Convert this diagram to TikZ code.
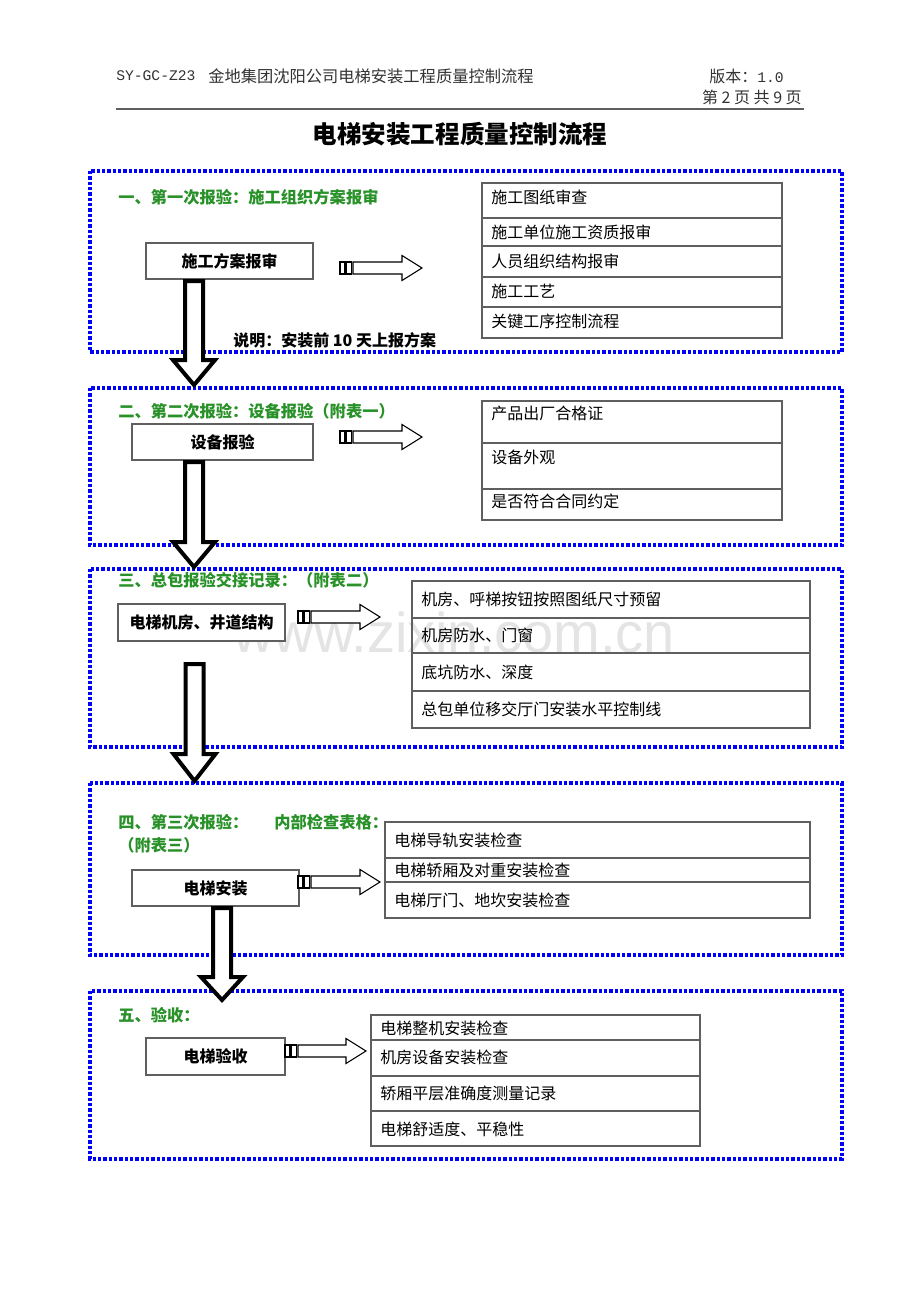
\documentclass[tikz,border=0pt]{standalone}
\usepackage{fontspec}
\setmainfont{Noto Sans CJK SC}
\newfontfamily\monof{Liberation Mono}
\newfontfamily\wmf{Liberation Sans}
\definecolor{hgreen}{RGB}{40,145,40}
\definecolor{lineg}{RGB}{95,95,95}
\definecolor{wmgray}{RGB}{228,228,228}
\newcommand\bigdown[4]{%
  \draw[bigarr] ({#1-9},#2) -- ({#1+9},#2) -- ({#1+9},#3) -- ({#1+21},#3) -- (#1,#4) -- ({#1-21},#3) -- ({#1-9},#3) -- cycle;}
\newcommand\smallright[3]{%
  \draw[smarr] (#1,{#2-6}) rectangle ({#1+5},{#2+6});
  \draw[smarr] ({#1+6.5},{#2-6}) rectangle ({#1+11.5},{#2+6});
  \draw[smarr] ({#1+13},{#2-6}) -- ({#3-20},{#2-6}) -- ({#3-20},{#2-12.5}) -- (#3,#2) -- ({#3-20},{#2+12.5}) -- ({#3-20},{#2+6}) -- ({#1+13},{#2+6}) -- cycle;}
\begin{document}
\begin{tikzpicture}[x=0.75pt,y=-0.75pt,
 frame/.style={draw=blue, line width=2.4pt, dash pattern=on 2.4pt off 1.6pt},
 headst/.style={anchor=west, inner sep=0pt, text=hgreen, font=\fontsize{12.2pt}{14pt}\selectfont\bfseries},
 boxst/.style={draw=lineg, line width=0.9pt, fill=white, inner sep=0pt, font=\fontsize{12pt}{14pt}\selectfont\bfseries},
 itemst/.style={anchor=west, inner sep=0pt, font=\fontsize{12pt}{14pt}\selectfont},
 tbl/.style={draw=lineg, line width=0.9pt},
 bigarr/.style={draw=black, line width=3pt, fill=white, miter limit=10},
 smarr/.style={draw=black, line width=0.8pt, fill=white},
]
\useasboundingbox[fill=white] (0,0) rectangle (920,1302);

% watermark
\node[anchor=base west, inner sep=0pt, text=wmgray, font=\wmf\fontsize{42pt}{48pt}\selectfont] (wm) at (233,652) {www.zixin.com.cn};

% header
\node[anchor=west, inner sep=0pt, text=black!80, font=\monof\fontsize{11pt}{13pt}\selectfont] (hcode) at (116,76) {SY-GC-Z23};
\node[anchor=west, inner sep=0pt, text=black!80, font=\fontsize{12.2pt}{14pt}\selectfont] (htitle) at (208,76) {金地集团沈阳公司电梯安装工程质量控制流程};
\node[anchor=east, inner sep=0pt, text=black!80, font=\fontsize{12pt}{14pt}\selectfont] (hver) at (784,76) {版本：{\monof\fontsize{11pt}{13pt}\selectfont 1.0}};
\node[anchor=east, inner sep=0pt, text=black!80, font=\fontsize{12pt}{14pt}\selectfont] (hpage) at (802,97) {第 2 页 共 9 页};
\draw[lineg, line width=1.4pt] (116,109) coordinate (hl1) -- (804,109) coordinate (hl2);
\node[inner sep=0pt, font=\fontsize{18.4pt}{22pt}\selectfont\bfseries] (title) at (460,134) {电梯安装工程质量控制流程};

% frames
\draw[frame] (90,171) rectangle (842,352);
\draw[frame] (90,388) rectangle (842,545);
\draw[frame] (90,569) rectangle (842,747);
\draw[frame] (90,783) rectangle (842,955);
\draw[frame] (90,991) rectangle (842,1159);

% ---------- section 1
\node[headst] (h1) at (118,197) {一、第一次报验：施工组织方案报审};
\node[boxst, minimum width=167*0.75pt, minimum height=36*0.75pt] (b1) at (229.5,261) {施工方案报审};
\smallright{340}{268}{422}
\draw[tbl] (482,183) rectangle (782,338);
\foreach \yy in {218,246,277,307} \draw[tbl] (482,\yy) -- (782,\yy);
\node[itemst] (l11) at (491,197) {施工图纸审查};
\node[itemst] (l12) at (491,232) {施工单位施工资质报审};
\node[itemst] (l13) at (491,261) {人员组织结构报审};
\node[itemst] (l14) at (491,291) {施工工艺};
\node[itemst] (l15) at (491,321) {关键工序控制流程};
\node[anchor=west, inner sep=0pt, font=\fontsize{12pt}{14pt}\selectfont\bfseries] (note) at (233,340) {说明：安装前 10 天上报方案};
\bigdown{194}{281}{360}{385}

% ---------- section 2
\node[headst] (h2) at (118,411) {二、第二次报验：设备报验（附表一）};
\node[boxst, minimum width=181*0.75pt, minimum height=36*0.75pt] (b2) at (222.5,442) {设备报验};
\smallright{340}{437}{422}
\draw[tbl] (482,401) rectangle (782,520);
\foreach \yy in {443,489} \draw[tbl] (482,\yy) -- (782,\yy);
\node[itemst] (l21) at (491,413) {产品出厂合格证};
\node[itemst] (l22) at (491,457) {设备外观};
\node[itemst] (l23) at (491,501) {是否符合合同约定};
\bigdown{194}{462}{542}{567}

% ---------- section 3
\node[headst] (h3) at (118,580) {三、总包报验交接记录：（附表二）};
\node[boxst, minimum width=167*0.75pt, minimum height=37*0.75pt] (b3) at (201.5,622.5) {电梯机房、井道结构};
\smallright{298}{617}{380}
\draw[tbl] (412,581) rectangle (810,728);
\foreach \yy in {618,653,691} \draw[tbl] (412,\yy) -- (810,\yy);
\node[itemst] (l31) at (421,599) {机房、呼梯按钮按照图纸尺寸预留};
\node[itemst] (l32) at (421,635) {机房防水、门窗};
\node[itemst] (l33) at (421,672) {底坑防水、深度};
\node[itemst] (l34) at (421,709) {总包单位移交厅门安装水平控制线};
\bigdown{194.5}{664}{754}{781}

% ---------- section 4
\node[headst] (h4) at (118,822) {四、第三次报验：};
\node[headst] (h4b) at (274,822) {内部检查表格：};
\node[headst] (h4c) at (118,845) {（附表三）};
\node[boxst, minimum width=167*0.75pt, minimum height=36*0.75pt] (b4) at (215.5,888) {电梯安装};
\smallright{298}{882}{380}
\draw[tbl] (385,822) rectangle (810,918);
\foreach \yy in {858,882} \draw[tbl] (385,\yy) -- (810,\yy);
\node[itemst] (l41) at (394,840) {电梯导轨安装检查};
\node[itemst] (l42) at (394,870) {电梯轿厢及对重安装检查};
\node[itemst] (l43) at (394,900) {电梯厅门、地坎安装检查};
\bigdown{222}{908}{977}{1000}

% ---------- section 5
\node[headst] (h5) at (118,1015) {五、验收：};
\node[boxst, minimum width=139*0.75pt, minimum height=37*0.75pt] (b5) at (215.5,1056.5) {电梯验收};
\smallright{285}{1051}{366}
\draw[tbl] (371,1015) rectangle (700,1146);
\foreach \yy in {1040,1076,1111} \draw[tbl] (371,\yy) -- (700,\yy);
\node[itemst] (l51) at (380,1028) {电梯整机安装检查};
\node[itemst] (l52) at (380,1057) {机房设备安装检查};
\node[itemst] (l53) at (380,1093) {轿厢平层准确度测量记录};
\node[itemst] (l54) at (380,1129) {电梯舒适度、平稳性};
\end{tikzpicture}
\end{document}
